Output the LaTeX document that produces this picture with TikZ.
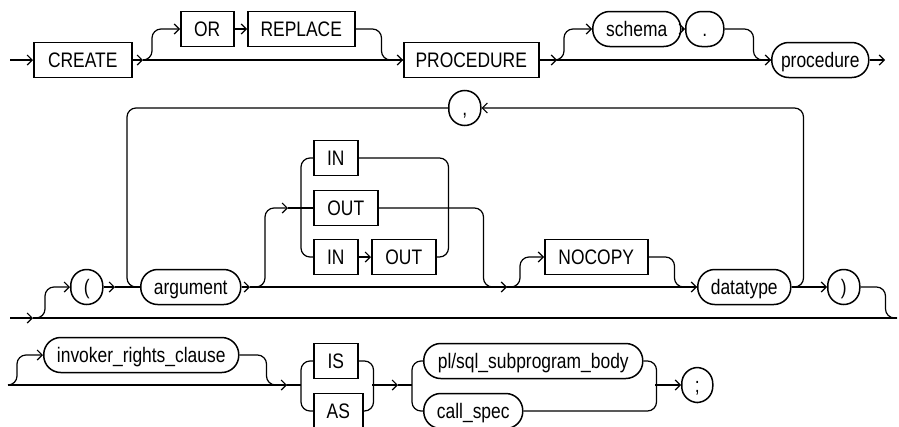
\documentclass[tikz,border=0pt]{standalone}
\usepackage{fontspec}
\setmainfont{Liberation Sans}[FakeStretch=0.83]
\usepackage{tikz}
\usetikzlibrary{arrows.meta, positioning, calc}

\tikzset{
  kw/.style={draw, line width=1.5pt, minimum height=35pt, inner sep=2pt, anchor=west,
    text height=15pt, text depth=0pt, font=\fontsize{21}{24}\selectfont},
  nt/.style={kw, rounded corners=17pt},
  sym/.style={kw, rounded corners=16pt, minimum width=32pt},
  rail/.style={line width=1.2pt, rounded corners=9pt},
  go/.style={rail, -{Straight Barb[length=5pt, width=10pt]}}
}

\begin{document}
\begin{tikzpicture}[x=1pt, y=-1pt]
  \useasboundingbox (0,0) rectangle (899,426);

  \node[kw, minimum width=98pt] (create) at (33,60) {CREATE};
  \node[kw, minimum width=53pt] (or) at (180,29) {OR};
  \node[kw, minimum width=107pt] (replace) at (247,29) {REPLACE};
  \node[kw, minimum width=135pt] (proc) at (403,60) {PROCEDURE};
  \node[nt, minimum width=88pt] (schema) at (592,29) {schema};
  \node[sym, minimum width=38pt] (dot) at (685,29) {.};
  \node[nt, minimum width=97pt] (procname) at (771,60) {procedure};
  \coordinate (start1) at (10,60);
  \coordinate (j1) at (143,60);
  \coordinate (j2) at (557,60);
  \coordinate (end1) at (885,60);

  \draw[go] (start1) -- (create);
  \draw[go] (create) -- (j1);
  \draw[go] (j1) -- (proc);
  \draw[go] (j1) -- ++(9,0) |- (or);
  \draw[go] (or) -- (replace);
  \draw[rail] (replace.east) -- ++(26,0) |- (proc.west);
  \draw[go] (proc) -- (j2);
  \draw[go] (j2) -- (procname);
  \draw[go] (j2) -- ++(7,0) |- (schema);
  \draw[go] (schema) -- (dot);
  \draw[rail] (dot.east) -- ++(29,0) |- (procname.west);
  \draw[go] (procname) -- (end1);

  \node[sym] (lpar) at (70,287) {(};
  \node[nt, minimum width=100pt] (arg) at (140,287) {argument};
  \node[kw, minimum width=44pt] (in1) at (313,158) {IN};
  \node[kw, minimum width=64pt] (out1) at (313,208) {OUT};
  \node[kw, minimum width=44pt] (in2) at (313,257) {IN};
  \node[kw, minimum width=64pt] (out2) at (371,257) {OUT};
  \node[kw, minimum width=103pt] (nocopy) at (544,257) {NOCOPY};
  \node[nt, minimum width=93pt] (dtype) at (697,287) {datatype};
  \node[sym] (rpar) at (827,287) {)};
  \node[sym] (comma) at (448,108) {,};
  \coordinate (start2) at (10,318);
  \coordinate (j3) at (33,318);
  \coordinate (end2) at (897,318);
  \coordinate (j4) at (115,287);
  \coordinate (j5) at (250,287);
  \coordinate (j6) at (288,208);
  \coordinate (j7) at (507,287);
  \coordinate (loopl) at (127,108);

  \draw[go] (start2) -- (j3);
  \draw[rail] (j3) -- (end2);
  \draw[go] (j3) -- ++(12,0) |- (lpar);
  \draw[go] (lpar) -- (j4);
  \draw[rail] (j4) -- (arg);
  \draw[go] (arg) -- (j5);
  \draw[go] (j5) -- (j7);
  \draw[go] (j5) -- ++(15,0) |- (j6);
  \draw[rail] (j6) -- (out1);
  \draw[rail] (in1.west) -- ++(-12,0) |- (in2.west);
  \draw[rail] (in1.east) -- ++(90,0) |- (out2.east);
  \draw[go] (in2) -- (out2);
  \draw[rail] (out1.east) -- ++(105,0) |- (j7);
  \draw[go] (j7) -- (dtype);
  \draw[go] (j7) -- ++(13,0) |- (nocopy);
  \draw[rail] (nocopy.east) -- ++(26,0) |- (dtype.west);
  \draw[go] (dtype.east) -- ++(12,0) |- (comma);
  \draw[rail] (comma) -- (loopl) |- (arg);
  \draw[go] (dtype) -- (rpar);
  \draw[rail] (rpar.east) -- ++(25,0) |- (end2);

  \node[nt, minimum width=195pt] (invoker) at (43,355) {invoker\_rights\_clause};
  \node[kw, minimum width=44pt] (is) at (313,361) {IS};
  \node[kw, minimum width=49pt] (as) at (313,411) {AS};
  \node[nt, minimum width=219pt] (body) at (423,361) {pl/sql\_subprogram\_body};
  \node[nt, minimum width=99pt] (callspec) at (423,411) {call\_spec};
  \node[sym, minimum width=31pt] (semi) at (681,385) {;};
  \coordinate (start3) at (8,385);
  \coordinate (j8) at (287,385);
  \coordinate (isout) at (372,385);
  \coordinate (j9) at (398,385);
  \coordinate (bodyout) at (655,385);

  \draw[go] (start3) -- (j8);
  \draw[go] (start3) -- ++(9,0) |- (invoker);
  \draw[rail] (invoker.east) -- ++(27,0) |- (j8);
  \draw[rail] (j8) -- ++(14,0);
  \draw[rail] (is.west) -- ++(-12,0) |- (as.west);
  \draw[rail] (is.east) -- ++(15,0) |- (as.east);
  \draw[go] (isout) -- (j9);
  \draw[rail] (j9) -- ++(14,0);
  \draw[rail] (body.west) -- ++(-11,0) |- (callspec.west);
  \draw[rail] (body.east) -- ++(13,0) |- (callspec.east);
  \draw[go] (bodyout) -- (semi);
\end{tikzpicture}
\end{document}
